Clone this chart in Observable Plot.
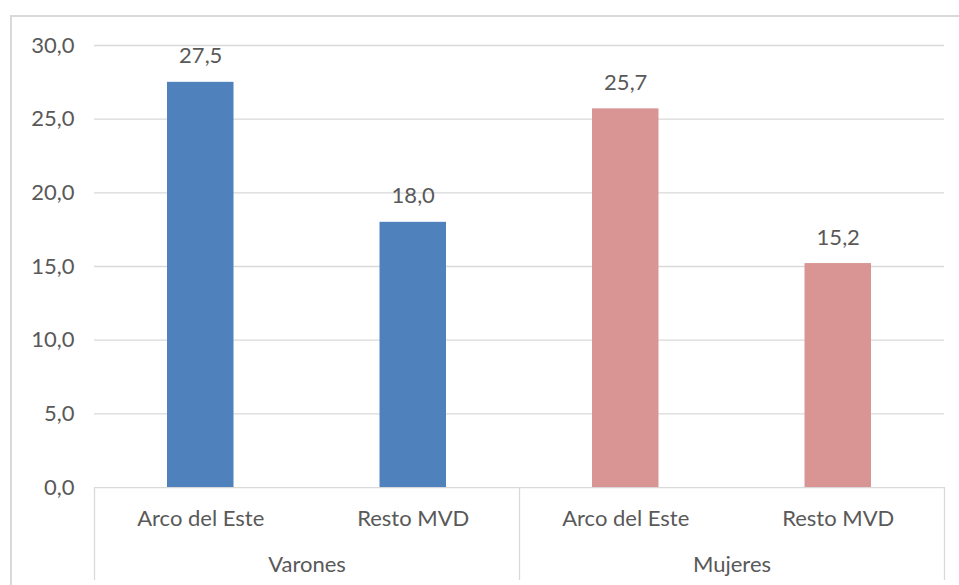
<!DOCTYPE html>
<html>
<head>
<meta charset="utf-8">
<script src="https://cdn.jsdelivr.net/npm/d3@7"></script>
<script src="https://cdn.jsdelivr.net/npm/@observablehq/plot@0.6"></script>
<style>
  html, body { margin: 0; padding: 0; background: #fff; }
  #wrap { position: relative; width: 959px; height: 585px; overflow: hidden; }
  #border { position: absolute; left: 10px; top: 15px; width: 960px; height: 600px;
            border-left: 2px solid #d9d9d9; border-top: 2px solid #d9d9d9; box-sizing: border-box; pointer-events: none; }
</style>
</head>
<body>
<div id="wrap"><div id="border"></div></div>
<script>
const groups = ["Varones", "Mujeres"];
const categories = ["Arco del Este", "Resto MVD", "Arco del Este", "Resto MVD"];
const groupOf = ["Varones", "Varones", "Mujeres", "Mujeres"];
const values = [27.5, 18.0, 25.7, 15.2];
const yTicks = [0, 5, 10, 15, 20, 25, 30];
const groupColors = {"Varones": "#4F81BD", "Mujeres": "#D99594"};

const data = values.map((v, i) => ({i, cat: categories[i], group: groupOf[i], value: v}));
const groupData = groups.map((g, k) => ({g, k}));
const fmt = v => v.toFixed(1).replace(".", ",");

const FONT = "Lato, 'Open Sans', sans-serif";
const TXT = "#595959";
const GRID = "#d9d9d9";
const FS = 22;

const plot = Plot.plot({
  width: 959,
  height: 585,
  marginLeft: 94,
  marginRight: 15,
  marginTop: 45,
  marginBottom: 5,
  style: {fontFamily: FONT, background: "transparent"},
  x: {type: "linear", domain: [0, categories.length], axis: null},
  y: {domain: [-6.31, 30], axis: null},
  marks: [
    Plot.ruleY(yTicks, {stroke: GRID, strokeWidth: 1.3}),
    Plot.text(yTicks, {y: d => d, text: d => fmt(d), frameAnchor: "left", textAnchor: "end", dx: -20, fill: TXT, fontSize: FS, fontFamily: FONT}),
    Plot.ruleX(groupData.map(d => d.k * 2).concat([groups.length * 2]), {y1: -6.31, y2: 0, stroke: GRID, strokeWidth: 1.3}),
    Plot.rect(data, {x1: d => d.i, x2: d => d.i + 1, y1: 0, y2: "value", fill: d => groupColors[d.group], insetLeft: 73, insetRight: 73}),
    Plot.text(data, {x: d => d.i + 0.5, y: "value", text: d => fmt(d.value), dy: -26, fill: TXT, fontSize: FS, fontFamily: FONT}),
    Plot.text(data, {x: d => d.i + 0.5, y: 0, text: "cat", dy: 31, fill: TXT, fontSize: FS, fontFamily: FONT}),
    Plot.text(groupData, {x: d => d.k * 2 + 1, y: 0, text: "g", dy: 77, fill: TXT, fontSize: FS, fontFamily: FONT})
  ]
});
document.getElementById("wrap").prepend(plot);
</script>
</body>
</html>
